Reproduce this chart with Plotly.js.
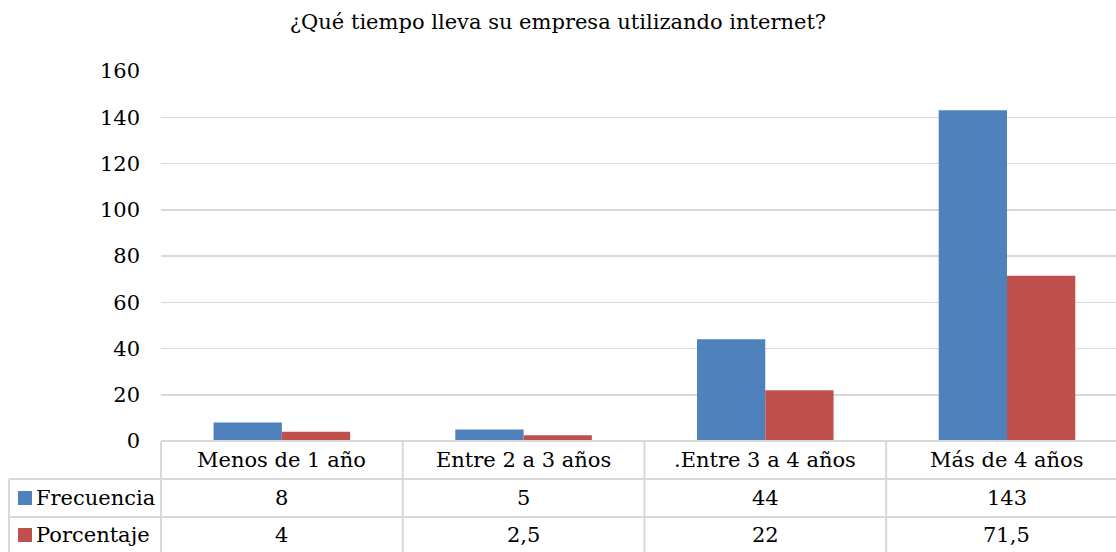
<!DOCTYPE html>
<html>
<head>
<meta charset="utf-8">
<script src="https://cdn.plot.ly/plotly-3.0.1.min.js"></script>
<style>html,body{margin:0;padding:0;background:#fff;}#chart{width:1116px;height:552px;}</style>
</head>
<body>
<div id="chart"></div>
<script>
const categories = ['Menos de 1 año', 'Entre 2 a 3 años', '.Entre 3 a 4 años', 'Más de 4 años'];
const frecuencia = [8, 5, 44, 143];
const porcentaje = [4, 2.5, 22, 71.5];
const seriesNames = ['Frecuencia', 'Porcentaje'];
const yTickVals = [0, 20, 40, 60, 80, 100, 120, 140, 160];
const titleText = '¿Qué tiempo lleva su empresa utilizando internet?';

const colors = ['#4F81BD', '#C0504D'];
const FONT = 'DejaVu Serif';
const FS = 21;
const GRID = '#D9D9D9';

const W = 1116, H = 552;
const L = 161, T = 71, B = 111;
const plotH = H - T - B;
const plotW = W - L;
const xMin = -0.5, xMax = 3.451;
const xSpan = xMax - xMin;

function py(pix) { return (H - B - pix) / plotH; }
function px(pix) { return (pix - L) / plotW; }
function fmt(v) { return String(v).replace('.', ','); }

const series = [frecuencia, porcentaje];
const traces = series.map((vals, i) => ({
  type: 'bar',
  name: seriesNames[i],
  x: categories,
  y: vals,
  marker: { color: colors[i], line: { width: 0 } },
  hoverinfo: 'none'
}));

const shapes = [];
const lineStyle = { color: GRID, width: 2 };
shapes.push({ type: 'line', xref: 'paper', yref: 'paper', x0: 0, x1: 1.05, y0: 0, y1: 0, line: lineStyle, layer: 'above' });
[479, 517].forEach(yp => shapes.push({ type: 'line', xref: 'paper', yref: 'paper', x0: px(9), x1: 1.05, y0: py(yp), y1: py(yp), line: lineStyle }));
shapes.push({ type: 'line', xref: 'paper', yref: 'paper', x0: 0, x1: 0, y0: 0, y1: py(560), line: lineStyle });
shapes.push({ type: 'line', xref: 'paper', yref: 'paper', x0: px(9), x1: px(9), y0: py(479), y1: py(560), line: lineStyle });
for (let k = 1; k < categories.length; k++) {
  const xp = (k - 0.5 - xMin) / xSpan;
  shapes.push({ type: 'line', xref: 'paper', yref: 'paper', x0: xp, x1: xp, y0: 0, y1: py(560), line: lineStyle });
}
const rowCenters = [498, 535];
rowCenters.forEach((c, i) => shapes.push({
  type: 'rect', xref: 'paper', yref: 'paper',
  x0: px(18), x1: px(32), y0: py(c - 7), y1: py(c + 7),
  fillcolor: colors[i], line: { width: 0 }
}));

const annotations = [];
const txt = { family: FONT, size: FS, color: '#000' };
categories.forEach((c, i) => {
  annotations.push({ x: i, xref: 'x', y: py(460), yref: 'paper', text: c, showarrow: false, font: txt, xanchor: 'center', yanchor: 'middle' });
  series.forEach((vals, s) => {
    annotations.push({ x: i, xref: 'x', y: py(rowCenters[s]), yref: 'paper', text: fmt(vals[i]), showarrow: false, font: txt, xanchor: 'center', yanchor: 'middle' });
  });
});
seriesNames.forEach((n, s) => {
  annotations.push({ x: px(34), xref: 'paper', y: py(rowCenters[s]), yref: 'paper', text: n, showarrow: false, font: txt, xanchor: 'left', yanchor: 'middle' });
});

const layout = {
  width: W, height: H,
  margin: { l: L, r: 0, t: T, b: B, pad: 0 },
  paper_bgcolor: '#fff', plot_bgcolor: '#fff',
  title: { text: titleText, font: { family: FONT, size: 21, color: '#000' }, x: 0.5, xref: 'container', y: 1 - 22 / H, yref: 'container', yanchor: 'middle' },
  showlegend: false,
  barmode: 'group',
  bargap: 0.435,
  bargroupgap: 0,
  xaxis: { type: 'category', range: [xMin, xMax], showticklabels: false, showgrid: false, zeroline: false, showline: false, ticks: '', fixedrange: true },
  yaxis: {
    range: [0, 160], tickvals: yTickVals, ticktext: yTickVals.map(String),
    showgrid: true, gridcolor: GRID, gridwidth: 1.5,
    zeroline: false, showline: false, ticks: '',
    ticklabelstandoff: 20,
    tickfont: { family: FONT, size: FS, color: '#000' }, fixedrange: true
  },
  shapes: shapes,
  annotations: annotations,
  font: { family: FONT, color: '#000' }
};

Plotly.newPlot('chart', traces, layout, { displayModeBar: false, staticPlot: true });
</script>
</body>
</html>
